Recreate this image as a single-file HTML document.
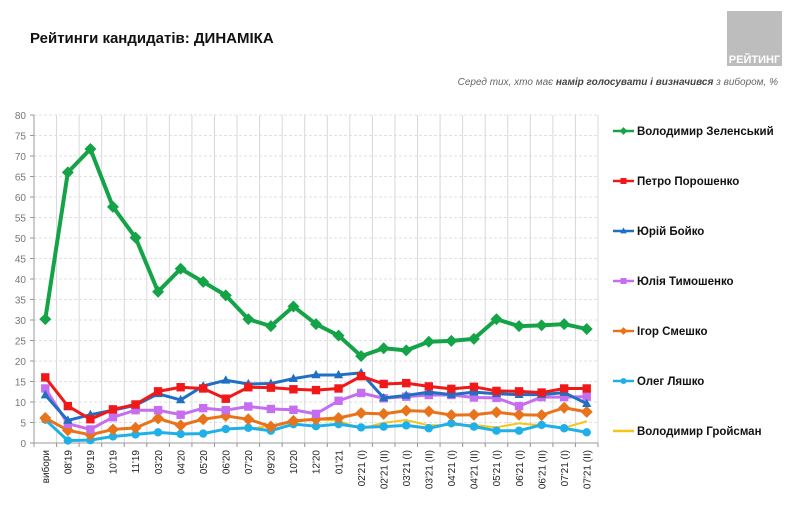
<!DOCTYPE html>
<html><head><meta charset="utf-8"><style>
body{margin:0;background:#fff;width:800px;height:505px;overflow:hidden;font-family:"Liberation Sans",sans-serif}
</style></head><body>
<svg id="s" width="800" height="505" xmlns="http://www.w3.org/2000/svg" font-family="Liberation Sans, sans-serif">
<text x="30" y="43" font-size="15" font-weight="bold" fill="#111">Рейтинги кандидатів: ДИНАМІКА</text>
<rect x="727" y="11" width="55" height="55" fill="#bdbdbd"/>
<text x="754.5" y="63" font-size="11" font-weight="bold" fill="#fff" text-anchor="middle">РЕЙТИНГ</text>
<text x="778" y="85" font-size="10" font-style="italic" fill="#666" text-anchor="end">Серед тих, хто має <tspan font-weight="bold" fill="#444">намір голосувати і визначився</tspan> з вибором, %</text>
<g id="grid"></g>
<g id="yl" font-size="10" fill="#777" text-anchor="end">
<text x="26" y="447">0</text><text x="26" y="406">5</text><text x="26" y="365">10</text><text x="26" y="324">15</text><text x="26" y="283">20</text><text x="26" y="242">25</text><text x="26" y="201">30</text><text x="26" y="160">35</text><text x="26" y="119">40</text>
<text x="26" y="78">45</text><text x="26" y="37">50</text>
</g>
<g id="series"></g>
<g font-size="10" fill="#222" text-anchor="end" id="xl">
<text transform="translate(49,450) rotate(-90)">вибори</text>
<text transform="translate(71.6,450) rotate(-90)">08'19</text>
<text transform="translate(94.1,450) rotate(-90)">09'19</text>
<text transform="translate(116.7,450) rotate(-90)">10'19</text>
<text transform="translate(139.2,450) rotate(-90)">11'19</text>
<text transform="translate(161.8,450) rotate(-90)">03'20</text>
<text transform="translate(184.4,450) rotate(-90)">04'20</text>
<text transform="translate(206.9,450) rotate(-90)">05'20</text>
<text transform="translate(229.5,450) rotate(-90)">06'20</text>
<text transform="translate(252,450) rotate(-90)">07'20</text>
<text transform="translate(274.6,450) rotate(-90)">09'20</text>
<text transform="translate(297.2,450) rotate(-90)">10'20</text>
<text transform="translate(319.7,450) rotate(-90)">12'20</text>
<text transform="translate(342.3,450) rotate(-90)">01'21</text>
<text transform="translate(364.8,450) rotate(-90)">02'21 (I)</text>
<text transform="translate(387.4,450) rotate(-90)">02'21 (II)</text>
<text transform="translate(410,450) rotate(-90)">03'21 (I)</text>
<text transform="translate(432.5,450) rotate(-90)">03'21 (II)</text>
<text transform="translate(455.1,450) rotate(-90)">04'21 (I)</text>
<text transform="translate(477.6,450) rotate(-90)">04'21 (II)</text>
<text transform="translate(500.2,450) rotate(-90)">05'21 (I)</text>
<text transform="translate(522.8,450) rotate(-90)">06'21 (I)</text>
<text transform="translate(545.3,450) rotate(-90)">06'21 (II)</text>
<text transform="translate(567.9,450) rotate(-90)">07'21 (I)</text>
<text transform="translate(590.4,450) rotate(-90)">07'21 (II)</text>
</g>
<g font-size="11.5" font-weight="bold" fill="#111" id="leg">
<text x="637" y="135">Володимир Зеленський</text>
<text x="637" y="185">Петро Порошенко</text>
<text x="637" y="235">Юрій Бойко</text>
<text x="637" y="285">Юлія Тимошенко</text>
<text x="637" y="335">Ігор Смешко</text>
<text x="637" y="385">Олег Ляшко</text>
<text x="637" y="435">Володимир Гройсман</text>
</g>
</svg>
<script>
const NS="http://www.w3.org/2000/svg";
function el(p,t,a){const e=document.createElementNS(NS,t);for(const k in a)e.setAttribute(k,a[k]);p.appendChild(e);return e;}
const s=document.getElementById('s');
const g2=document.getElementById('yl');g2.innerHTML='';
const X0=34,X1=598,Y0=443,K=4.1,W=(X1-X0)/25;
const Y=v=>Y0-v*K, X=i=>X0+W*(i+0.5);
for(let v=0;v<=80;v+=5){const t=el(g2,'text',{x:26,y:Y(v)+4});t.textContent=v;}
const grid=document.getElementById('grid');
for(let v=5;v<=80;v+=5)el(grid,'line',{x1:X0,x2:X1,y1:Y(v),y2:Y(v),stroke:'#e0e0e0','stroke-dasharray':'3,2','stroke-width':1});
for(let i=1;i<=25;i++)el(grid,'line',{x1:X0+W*i,x2:X0+W*i,y1:Y(80),y2:Y0+4,stroke:'#d8d8d8','stroke-width':1});
el(grid,'line',{x1:X0,x2:X0,y1:Y(80),y2:Y0,stroke:'#999'});
el(grid,'line',{x1:X0-4,x2:X1,y1:Y0,y2:Y0,stroke:'#999'});
for(let v=0;v<=80;v+=5)el(grid,'line',{x1:X0-4,x2:X0,y1:Y(v),y2:Y(v),stroke:'#999'});
for(let i=0;i<=25;i++)el(grid,'line',{x1:X0+W*i,x2:X0+W*i,y1:Y0,y2:Y0+4,stroke:'#999'});
const S=[
['#f5c518',null,[null,null,null,null,null,null,null,null,null,3.3,4.3,5.1,5.8,5.4,3.5,4.9,5.6,4.3,4.4,4.4,3.8,4.8,4.3,3.7,5.3],2],
['#1fb0e8','c',[5.7,0.6,0.7,1.6,2.1,2.6,2.2,2.3,3.4,3.7,3,4.6,4.1,4.6,3.8,4,4.3,3.6,4.8,4,3,3,4.4,3.6,2.6],3],
['#e8731a','d',[6.1,3.1,2,3.3,3.7,6,4.3,5.8,6.6,5.8,4,5.4,5.8,6.1,7.3,7.1,7.9,7.7,6.8,6.9,7.5,6.9,6.8,8.6,7.6],3],
['#c66ef0','s',[13.3,4.7,3.3,6.3,8,8,6.9,8.5,8,8.9,8.3,8.1,7.1,10.3,12.2,10.9,11.3,11.7,11.7,11.1,11.0,9,11.2,11.2,11.3],3],
['#1f6fc4','t',[11.7,5.5,6.9,8,9.2,12,10.5,13.9,15.3,14.4,14.5,15.7,16.6,16.6,17.1,11,11.6,12.4,11.8,12.4,12,11.8,11.8,12.3,9.6],3],
['#f01818','s',[16,9,5.8,8.2,9.4,12.6,13.6,13.3,10.8,13.6,13.5,13.1,12.9,13.3,16.3,14.4,14.6,13.8,13.2,13.7,12.7,12.6,12.3,13.3,13.3],3],
['#14a347','d',[30.2,66,71.7,57.6,50.1,36.9,42.5,39.3,36,30.2,28.5,33.3,29,26.2,21.2,23.1,22.6,24.7,24.9,25.4,30.2,28.5,28.7,29,27.8],4]
];
const sg=document.getElementById('series');
function mk(g,m,x,y,c,r){
 if(m=='c')el(g,'circle',{cx:x,cy:y,r:r,fill:c});
 else if(m=='s')el(g,'rect',{x:x-r,y:y-r,width:2*r,height:2*r,fill:c});
 else if(m=='d')el(g,'polygon',{points:`${x},${y-r*1.3} ${x+r*1.3},${y} ${x},${y+r*1.3} ${x-r*1.3},${y}`,fill:c});
 else if(m=='t')el(g,'polygon',{points:`${x},${y-r*1.2} ${x+r*1.1},${y+r*0.8} ${x-r*1.1},${y+r*0.8}`,fill:c});
}
S.forEach(([c,m,d,w])=>{
 const pts=d.map((v,i)=>v==null?null:[X(i),Y(v)]).filter(p=>p);
 el(sg,'polyline',{points:pts.map(p=>p.join(',')).join(' '),fill:'none',stroke:c,'stroke-width':w,'stroke-linejoin':'round'});
 if(m)pts.forEach(p=>mk(sg,m,p[0],p[1],c,m=='d'?4.6:4.2));
});
const L=[['#14a347','d'],['#f01818','s'],['#1f6fc4','t'],['#c66ef0','s'],['#e8731a','d'],['#1fb0e8','c'],['#f5c518',null]];
const lg=document.getElementById('leg');
L.forEach(([c,m],k)=>{const y=131+50*k;el(lg,'line',{x1:613,x2:634,y1:y,y2:y,stroke:c,'stroke-width':2.5});if(m)mk(lg,m,623.5,y,c,3);});
</script>
</body></html>
